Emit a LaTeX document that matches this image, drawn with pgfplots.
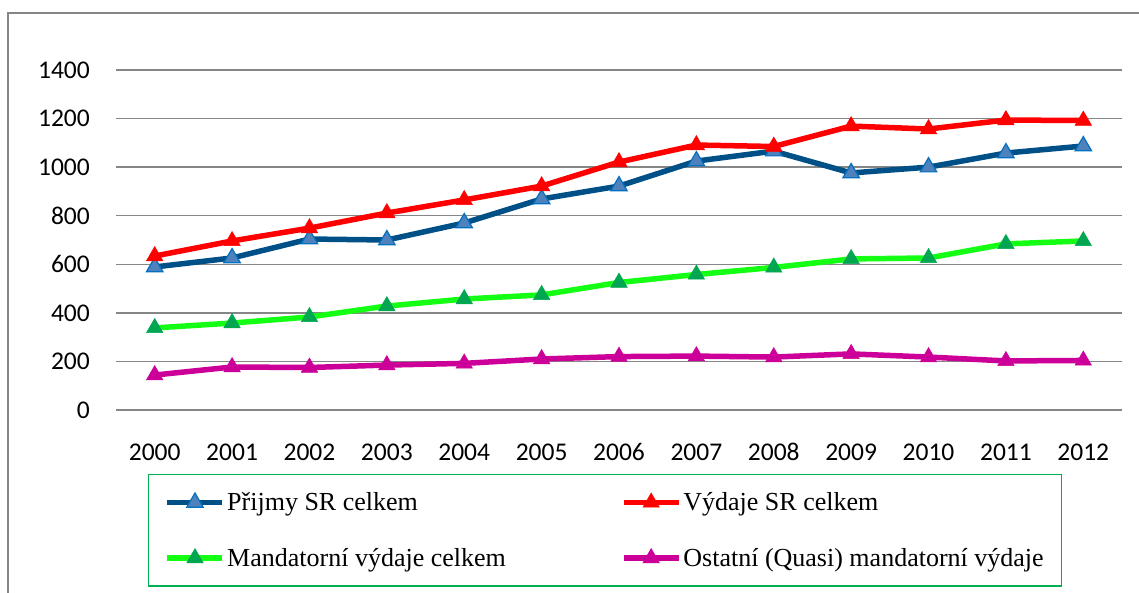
\documentclass[border=0pt]{standalone}
\usepackage{pgfplots}
\pgfplotsset{compat=1.18}
\usepackage{fontspec}
\setmainfont{Liberation Serif}
\newfontfamily\carlito{Carlito}
\definecolor{gridgray}{RGB}{134,134,134}
\definecolor{blueline}{RGB}{0,80,136}
\definecolor{bluefill}{RGB}{79,129,189}
\definecolor{blueedge}{RGB}{0,112,192}
\definecolor{redline}{RGB}{255,0,0}
\definecolor{greenline}{RGB}{20,255,20}
\definecolor{greenmark}{RGB}{0,166,80}
\definecolor{magline}{RGB}{204,0,153}
\definecolor{legendgreen}{RGB}{0,176,80}
\begin{document}
\begin{tikzpicture}[x=1pt,y=1pt]
\useasboundingbox (0,0) rectangle (1139,592);
\fill[white] (0,0) rectangle (1139,592);
\draw[gridgray, line width=1.5pt] (8,-20) -- (8,579) -- (1160,579);
\begin{axis}[
  at={(116pt,182pt)}, anchor=south west,
  scale only axis, width=1006pt, height=340pt,
  xmin=-0.5, xmax=12.5, ymin=0, ymax=1400,
  xtick={0,...,12},
  xticklabels={2000,2001,2002,2003,2004,2005,2006,2007,2008,2009,2010,2011,2012},
  ytick={0,200,...,1400},
  ymajorgrids,
  grid style={gridgray, line width=1.5pt},
  axis line style={draw=none},
  major tick length=0pt,
  tick label style={font=\carlito\fontsize{25.5}{30}\selectfont},
  /pgf/number format/assume math mode=true,
  /pgf/number format/1000 sep={},
  yticklabel style={inner sep=0pt, xshift=-26pt},
  xticklabel style={inner sep=0pt, anchor=base, yshift=-50pt},
  clip=false,
  legend columns=2,
  legend cell align=left,
  legend image code/.code={\draw[mark repeat=2,mark phase=2,#1] plot coordinates {(0pt,0pt) (27.5pt,0pt) (55pt,0pt)};},
  legend style={at={(rel axis cs:0.0318,-0.188)}, anchor=north west,
    draw=legendgreen, line width=1.5pt,
    font=\fontsize{26}{30}\selectfont,
    inner xsep=16pt, inner ysep=14pt,
    nodes={inner xsep=2pt, inner ysep=4pt},
    row sep=28pt,
    /tikz/every even column/.append style={column sep=113pt}},
]
\addplot[blueline, line width=5.5pt, mark=triangle*, mark size=9.5pt,
  mark options={solid, fill=bluefill, draw=blueedge, line width=1.2pt}]
  coordinates {(0,589) (1,626) (2,704) (3,700) (4,770) (5,869) (6,922) (7,1025) (8,1066) (9,976) (10,1000) (11,1058) (12,1087)};
\addlegendentry{Přijmy SR celkem}
\addplot[redline, line width=5.5pt, mark=triangle*, mark size=9.5pt,
  mark options={solid, fill=redline, draw=redline, line width=0.5pt}]
  coordinates {(0,634) (1,696) (2,749) (3,811) (4,865) (5,922) (6,1021) (7,1091) (8,1085) (9,1169) (10,1157) (11,1194) (12,1192)};
\addlegendentry{Výdaje SR celkem}
\addplot[greenline, line width=5.5pt, mark=triangle*, mark size=9.5pt,
  mark options={solid, fill=greenmark, draw=greenmark, line width=0.5pt}]
  coordinates {(0,338) (1,358) (2,383) (3,428) (4,457) (5,474) (6,525) (7,558) (8,587) (9,622) (10,626) (11,684) (12,696)};
\addlegendentry{Mandatorní výdaje celkem}
\addplot[magline, line width=5.5pt, mark=triangle*, mark size=9.5pt,
  mark options={solid, fill=magline, draw=magline, line width=0.5pt}]
  coordinates {(0,144) (1,177) (2,175) (3,185) (4,192) (5,210) (6,220) (7,222) (8,218) (9,231) (10,218) (11,202) (12,204)};
\addlegendentry{Ostatní (Quasi) mandatorní výdaje}
\end{axis}
\end{tikzpicture}
\end{document}
